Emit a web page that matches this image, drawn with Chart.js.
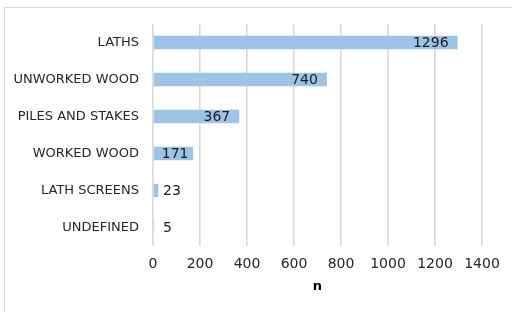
<!DOCTYPE html>
<html>
<head>
<meta charset="utf-8">
<script src="https://cdn.jsdelivr.net/npm/chart.js"></script>
<style>
  html, body { margin: 0; padding: 0; background: #fff; overflow: hidden; }
  #wrap { position: relative; width: 512px; height: 312px; }
</style>
</head>
<body>
<div id="wrap"><canvas id="chart" width="512" height="312"></canvas></div>
<script>
// data
const categories = ['LATHS', 'UNWORKED WOOD', 'PILES AND STAKES', 'WORKED WOOD', 'LATH SCREENS', 'UNDEFINED'];
const counts = [1296, 740, 367, 171, 23, 5];
const xTicks = [0, 200, 400, 600, 800, 1000, 1200, 1400];
const axisTitle = 'n';

const FONT = "'DejaVu Sans', sans-serif";

// light grey frame round the chart, like the original export
const framePlugin = {
    id: 'frame',
    beforeDraw(chart) {
        const ctx = chart.ctx;
        ctx.save();
        ctx.strokeStyle = '#d9d9d9';
        ctx.lineWidth = 1;
        ctx.strokeRect(4.5, 7.5, 520, 320);
        ctx.restore();
    }
};

// value labels: inside end for long bars, just past the end for short ones
const valueLabels = {
    id: 'valueLabels',
    afterDatasetsDraw(chart) {
        const ctx = chart.ctx;
        const meta = chart.getDatasetMeta(0);
        const x0 = chart.scales.x.getPixelForValue(0);
        ctx.save();
        ctx.font = '14px ' + FONT;
        ctx.fillStyle = '#1a1a1a';
        ctx.textBaseline = 'middle';
        meta.data.forEach((bar, i) => {
            const txt = String(counts[i]);
            const w = ctx.measureText(txt).width;
            const len = bar.x - x0;
            if (len >= w + 20) {
                ctx.textAlign = 'right';
                ctx.fillText(txt, bar.x - 9, bar.y + 1);
            } else if (len >= w + 4) {
                ctx.textAlign = 'center';
                ctx.fillText(txt, x0 + len / 2 + 2, bar.y + 1);
            } else {
                ctx.textAlign = 'left';
                ctx.fillText(txt, Math.max(bar.x + 4, x0 + 10), bar.y + 1);
            }
        });
        ctx.restore();
    }
};

new Chart(document.getElementById('chart'), {
    type: 'bar',
    data: {
        labels: categories,
        datasets: [{
            data: counts,
            backgroundColor: '#9dc3e6',
            borderWidth: 0,
            categoryPercentage: 1,
            barPercentage: 0.36
        }]
    },
    options: {
        indexAxis: 'y',
        responsive: false,
        animation: false,
        events: [],
        layout: { padding: { top: 24, right: 30, bottom: 0, left: 0 } },
        plugins: {
            legend: { display: false },
            tooltip: { enabled: false }
        },
        scales: {
            x: {
                min: 0,
                max: 1400,
                afterBuildTicks(scale) {
                    scale.ticks = xTicks.map(v => ({ value: v }));
                },
                afterFit(scale) { scale.height = 66; },
                grid: { color: '#d9d9d9', lineWidth: 1.6, drawTicks: false },
                border: { display: false },
                ticks: {
                    padding: 10,
                    color: '#262626',
                    font: { family: FONT, size: 14 },
                    callback: v => String(v)
                },
                title: {
                    display: true,
                    text: axisTitle,
                    color: '#000',
                    font: { family: FONT, size: 13, weight: 'bold' },
                    padding: { top: 4, bottom: 18 }
                }
            },
            y: {
                afterFit(scale) { scale.width = 153; },
                grid: { display: false, drawTicks: false },
                border: { display: false },
                ticks: {
                    padding: 14,
                    color: '#262626',
                    font: { family: FONT, size: 13 }
                }
            }
        }
    },
    plugins: [framePlugin, valueLabels]
});
</script>
</body>
</html>
